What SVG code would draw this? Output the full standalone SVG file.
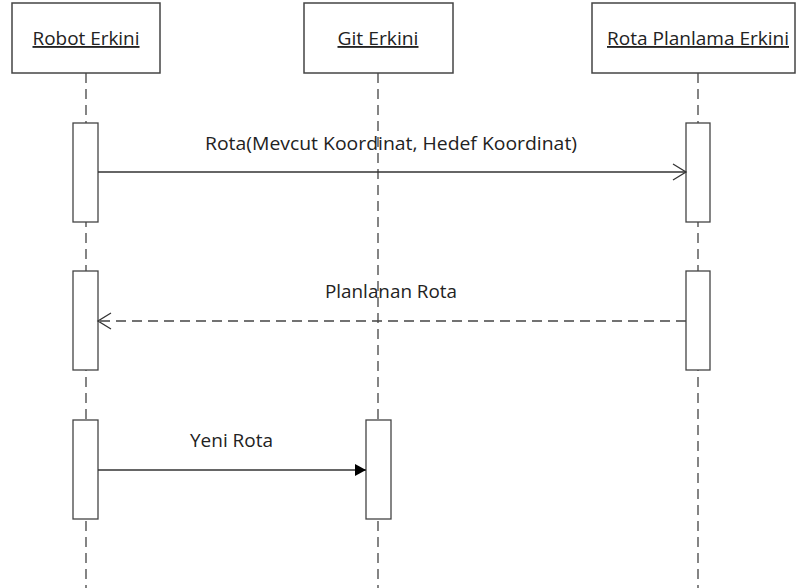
<svg xmlns="http://www.w3.org/2000/svg" width="797" height="588" viewBox="0 0 797 588">
  <style>
    .box { fill: #fff; stroke: #444; stroke-width: 1.5; }
    .act { fill: #fff; stroke: #444; stroke-width: 1.3; }
    .life { stroke: #444; stroke-width: 1.3; stroke-dasharray: 10 6; fill: none; }
    .msg { stroke: #333; stroke-width: 1.3; fill: none; }
    .ret { stroke: #444; stroke-width: 1.3; fill: none; stroke-dasharray: 10 6; }
    .title { font-family: "Open Sans", "Liberation Sans", sans-serif; font-size: 18.5px; fill: #222; text-anchor: middle; text-decoration: underline; }
    .label { font-family: "Open Sans", "Liberation Sans", sans-serif; font-size: 18.5px; fill: #222; text-anchor: middle; }
  </style>
  <defs>
    <marker id="open" markerWidth="16" markerHeight="18" refX="14" refY="9" orient="auto" markerUnits="userSpaceOnUse">
      <path d="M1,1 L14,9 L1,17" fill="none" stroke="#333" stroke-width="1.3"/>
    </marker>
    <marker id="filled" markerWidth="14" markerHeight="14" refX="12" refY="7" orient="auto" markerUnits="userSpaceOnUse">
      <path d="M1,1 L12,7 L1,13 Z" fill="#000"/>
    </marker>
  </defs>
  <rect width="797" height="588" fill="#fff"/>

  <!-- lifelines -->
  <g id="lifelines">
    <line class="life" x1="86" y1="73" x2="86" y2="588"/>
    <line class="life" x1="378" y1="73" x2="378" y2="588"/>
    <line class="life" x1="698" y1="73" x2="698" y2="588"/>
  </g>

  <g id="robot">
    <rect class="box" x="12" y="3" width="148" height="70"/>
    <text class="title" x="86" y="45" textLength="107" lengthAdjust="spacingAndGlyphs">Robot Erkini</text>
    <rect class="act" x="73" y="123" width="25" height="99"/>
    <rect class="act" x="73" y="271" width="25" height="99"/>
    <rect class="act" x="73" y="420" width="25" height="99"/>
  </g>

  <g id="git">
    <rect class="box" x="304" y="3" width="149" height="70"/>
    <text class="title" x="378" y="45" textLength="81" lengthAdjust="spacingAndGlyphs">Git Erkini</text>
    <rect class="act" x="366" y="420" width="25" height="99"/>
  </g>

  <g id="planner">
    <rect class="box" x="592" y="3" width="203" height="70"/>
    <text class="title" x="698" y="45" textLength="182" lengthAdjust="spacingAndGlyphs">Rota Planlama Erkini</text>
    <rect class="act" x="686" y="123" width="24" height="99"/>
    <rect class="act" x="686" y="271" width="24" height="99"/>
  </g>

  <!-- messages -->
  <g id="connectors">
    <line class="msg" x1="98" y1="172" x2="686" y2="172" marker-end="url(#open)"/>
    <text class="label" x="391" y="150" textLength="372" lengthAdjust="spacingAndGlyphs">Rota(Mevcut Koordinat, Hedef Koordinat)</text>
    <line class="ret" x1="686" y1="321" x2="98" y2="321" marker-end="url(#open)"/>
    <text class="label" x="391" y="298" textLength="132" lengthAdjust="spacingAndGlyphs">Planlanan Rota</text>
    <line class="msg" x1="98" y1="470" x2="366" y2="470" marker-end="url(#filled)"/>
    <text class="label" x="231.5" y="447" textLength="83" lengthAdjust="spacingAndGlyphs">Yeni Rota</text>
  </g>
</svg>
